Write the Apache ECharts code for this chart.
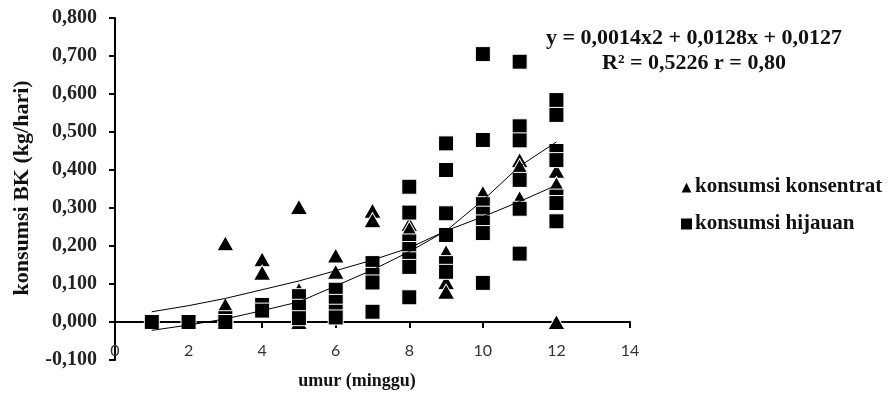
<!DOCTYPE html>
<html>
<head>
<meta charset="utf-8">
<script src="https://cdn.jsdelivr.net/npm/echarts@6/dist/echarts.min.js"></script>
<style>
html,body{margin:0;padding:0;background:#fff;}
#chart{width:896px;height:396px;}
</style>
</head>
<body>
<div id="chart"></div>
<script>
// Weeks (umur, minggu)
const weeks = [1, 2, 3, 4, 5, 6, 7, 8, 9, 10, 11, 12];
// konsumsi konsentrat (triangles), values per week
const konsentratByWeek = [
  [0],
  [0],
  [0.207, 0.045, 0],
  [0.165, 0.130],
  [0.303, 0.085, 0],
  [0.175, 0.132],
  [0.293, 0.268],
  [0.258, 0.245],
  [0.184, 0.105, 0.080],
  [0.340],
  [0.426, 0.410, 0.326],
  [0.398, 0.363, 0]
];
// konsumsi hijauan (squares), values per week
const hijauanByWeek = [
  [0],
  [0],
  [0.010, 0],
  [0.045, 0.030],
  [0.068, 0.040, 0.010],
  [0.085, 0.053, 0.027, 0.012],
  [0.155, 0.124, 0.104, 0.027],
  [0.356, 0.288, 0.212, 0.192, 0.165, 0.145, 0.065],
  [0.470, 0.400, 0.286, 0.229, 0.155, 0.132],
  [0.705, 0.479, 0.310, 0.285, 0.262, 0.234, 0.103],
  [0.685, 0.515, 0.478, 0.374, 0.298, 0.180],
  [0.584, 0.545, 0.450, 0.426, 0.330, 0.313, 0.265]
];
// trend lines
const trendA = [0.027, 0.043, 0.062, 0.085, 0.108, 0.135, 0.163, 0.195, 0.240, 0.277, 0.317, 0.360];
const trendB = [-0.022, -0.008, 0.008, 0.030, 0.053, 0.095, 0.137, 0.185, 0.240, 0.320, 0.410, 0.474];
// axis ticks
const xTicks = [0, 2, 4, 6, 8, 10, 12, 14];
const yTicks = [-0.1, 0, 0.1, 0.2, 0.3, 0.4, 0.5, 0.6, 0.7, 0.8];
const seriesNames = ['konsumsi konsentrat', 'konsumsi hijauan'];
const equationText = 'y = 0,0014x2 + 0,0128x + 0,0127';
const rText = 'R\u00b2 = 0,5226 r = 0,80';
const xTitle = 'umur (minggu)';
const yTitle = 'konsumsi BK (kg/hari)';

function flatten(byWeek) {
  const out = [];
  byWeek.forEach((vals, i) => vals.forEach(v => out.push([weeks[i], v])));
  return out;
}
const serif = '"Liberation Serif", "Times New Roman", serif';

const gridTop = 18, gridBottom = 36, H = 396;
const plotH = H - gridTop - gridBottom;
// offset of the x axis line so that it sits at y = 0
const zeroOffset = -plotH * (0 - yTicks[0]) / (yTicks[yTicks.length - 1] - yTicks[0]);

const chart = echarts.init(document.getElementById('chart'), null, {renderer: 'canvas'});
chart.setOption({
  animation: false,
  backgroundColor: '#fff',
  grid: {left: 115, right: 266, top: gridTop, bottom: gridBottom, containLabel: false},
  xAxis: {
    type: 'value', position: 'bottom', offset: zeroOffset,
    min: xTicks[0], max: xTicks[xTicks.length - 1], interval: 2,
    axisLine: {onZero: false, lineStyle: {color: '#000', width: 2}},
    axisTick: {show: true, length: 6, inside: false, lineStyle: {color: '#000', width: 2}},
    axisLabel: {margin: 21, color: '#333', fontFamily: 'Lato, "Liberation Sans", sans-serif', fontSize: 16},
    splitLine: {show: false}
  },
  yAxis: {
    type: 'value',
    min: yTicks[0], max: yTicks[yTicks.length - 1], interval: 0.1,
    axisLine: {show: true, onZero: false, lineStyle: {color: '#000', width: 2}},
    axisTick: {show: true, length: 6, inside: false, lineStyle: {color: '#000', width: 2}},
    axisLabel: {
      margin: 18, color: '#222', fontFamily: serif, fontWeight: 'bold', fontSize: 20,
      formatter: v => (Math.round(v * 1000) / 1000).toFixed(3).replace('.', ',')
    },
    splitLine: {show: false}
  },
  legend: {
    data: [
      {name: seriesNames[0], icon: 'triangle'},
      {name: seriesNames[1], icon: 'rect'}
    ],
    orient: 'vertical',
    left: 674, top: 171,
    itemWidth: 13, itemHeight: 13, itemGap: 15,
    textStyle: {fontFamily: serif, fontWeight: 'bold', fontSize: 21, color: '#111', lineHeight: 22, padding: [0, 0, 0, -3]}
  },
  graphic: [
    {type: 'text', x: 694, y: 38, style: {text: equationText, font: 'bold 22px ' + serif, fill: '#111', textAlign: 'center', textVerticalAlign: 'middle'}},
    {type: 'text', x: 694, y: 63, style: {text: rText, font: 'bold 22px ' + serif, fill: '#111', textAlign: 'center', textVerticalAlign: 'middle'}},
    {type: 'text', x: 357, y: 381, style: {text: xTitle, font: 'bold 18px ' + serif, fill: '#111', textAlign: 'center', textVerticalAlign: 'middle'}},
    {type: 'text', x: 22, y: 188, rotation: Math.PI / 2, style: {text: yTitle, font: 'bold 22px ' + serif, fill: '#111', textAlign: 'center', textVerticalAlign: 'middle'}}
  ],
  series: [
    {
      name: seriesNames[0], type: 'scatter', symbol: 'triangle', symbolSize: [17, 15],
      itemStyle: {color: '#000', borderColor: '#fff', borderWidth: 1, opacity: 1},
      data: flatten(konsentratByWeek), z: 2
    },
    {
      name: seriesNames[1], type: 'scatter', symbol: 'rect', symbolSize: 15,
      itemStyle: {color: '#000', borderColor: '#fff', borderWidth: 1, opacity: 1},
      data: flatten(hijauanByWeek), z: 3
    },
    {
      name: 'trendA', type: 'line', showSymbol: false, symbol: 'none', silent: true,
      lineStyle: {color: '#000', width: 1}, data: weeks.map((w, i) => [w, trendA[i]]), z: 4
    },
    {
      name: 'trendB', type: 'line', showSymbol: false, symbol: 'none', silent: true,
      lineStyle: {color: '#000', width: 1}, data: weeks.map((w, i) => [w, trendB[i]]), z: 4
    }
  ]
});
</script>
</body>
</html>
